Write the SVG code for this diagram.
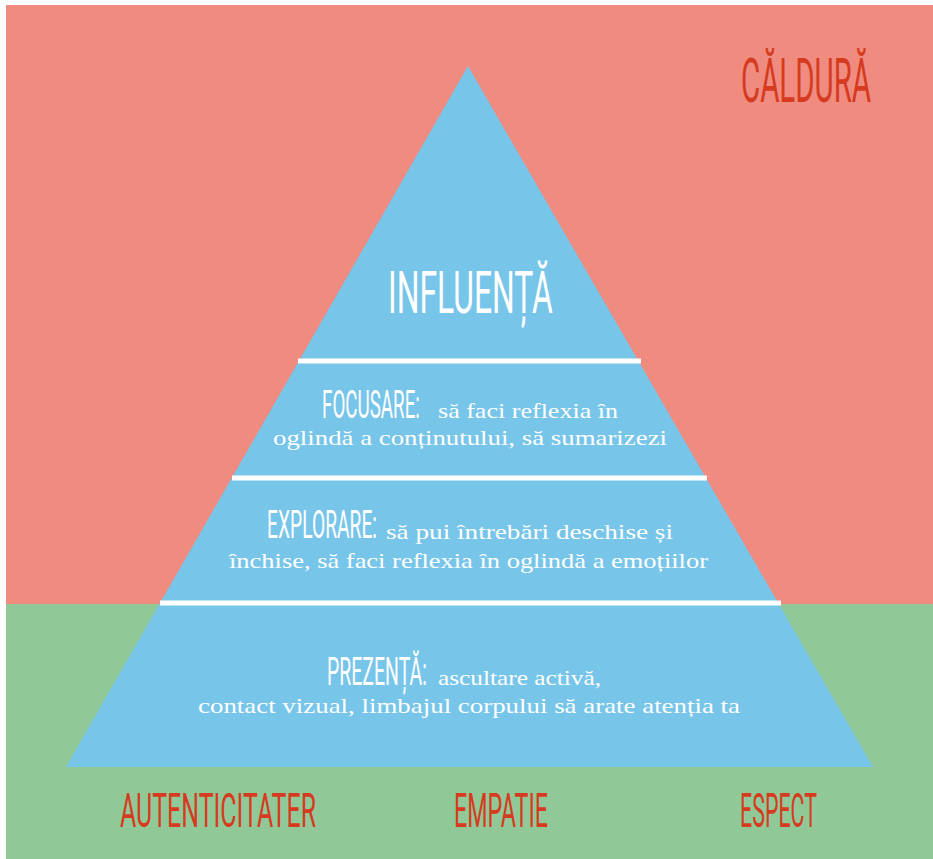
<svg xmlns="http://www.w3.org/2000/svg" width="933" height="859" viewBox="0 0 933 859">
  <style>
    .head { font-family: Roboto, "Open Sans", "DejaVu Sans", sans-serif; font-weight: 400; }
    .red { fill: #D63B20; }
    .white { fill: #FFFFFF; }
    .body { font-family: "Liberation Serif", "DejaVu Serif", serif; font-size: 22px; fill: #FFFFFF; }
    .divider { stroke: #FFFFFF; stroke-width: 5; }
  </style>
  <rect x="0" y="0" width="933" height="859" fill="#FFFFFF"/>
  <g id="background">
    <rect x="6" y="5" width="927" height="599" fill="#F08B7F"/>
    <rect x="6" y="604" width="927" height="255" fill="#90C997"/>
  </g>
  <g id="pyramid">
    <polygon points="468,66 873,767 66,767" fill="#78C5EA"/>
  </g>
  <g id="connectors">
    <line class="divider" x1="298" y1="361" x2="641" y2="361"/>
    <line class="divider" x1="232" y1="478" x2="707" y2="478"/>
    <line class="divider" x1="160" y1="603" x2="781" y2="603"/>
  </g>
  <g id="caldura">
    <text class="head red" transform="translate(741,102) scale(0.475,1)" x="0" y="0" font-size="62" textLength="273.7" lengthAdjust="spacingAndGlyphs">CĂLDURĂ</text>
  </g>
  <g id="influenta">
    <text class="head white" transform="translate(388,313) scale(0.52,1)" x="0" y="0" font-size="60" textLength="317" lengthAdjust="spacingAndGlyphs">INFLUENȚĂ</text>
  </g>
  <g id="focusare">
    <text class="head white" transform="translate(322,418) scale(0.48,1)" x="0" y="0" font-size="39" textLength="204" lengthAdjust="spacingAndGlyphs">FOCUSARE:</text>
    <text class="body" x="438" y="418" textLength="180" lengthAdjust="spacingAndGlyphs">să faci reflexia în</text>
    <text class="body" x="273" y="445" textLength="394" lengthAdjust="spacingAndGlyphs">oglindă a conținutului, să sumarizezi</text>
  </g>
  <g id="explorare">
    <text class="head white" transform="translate(267,538) scale(0.49,1)" x="0" y="0" font-size="39" textLength="224.5" lengthAdjust="spacingAndGlyphs">EXPLORARE:</text>
    <text class="body" x="386" y="539" textLength="287" lengthAdjust="spacingAndGlyphs">să pui întrebări deschise și</text>
    <text class="body" x="229" y="568" textLength="479" lengthAdjust="spacingAndGlyphs">închise, să faci reflexia în oglindă a emoțiilor</text>
  </g>
  <g id="prezenta">
    <text class="head white" transform="translate(327,685) scale(0.495,1)" x="0" y="0" font-size="39" textLength="202" lengthAdjust="spacingAndGlyphs">PREZENȚĂ:</text>
    <text class="body" x="438" y="685" textLength="163" lengthAdjust="spacingAndGlyphs">ascultare activă,</text>
    <text class="body" x="198" y="713" textLength="542" lengthAdjust="spacingAndGlyphs">contact vizual, limbajul corpului să arate atenția ta</text>
  </g>
  <g id="autenticitater">
    <text class="head red" transform="translate(120,827) scale(0.51,1)" x="0" y="0" font-size="48" textLength="384.3" lengthAdjust="spacingAndGlyphs">AUTENTICITATER</text>
  </g>
  <g id="empatie">
    <text class="head red" transform="translate(454,827) scale(0.47,1)" x="0" y="0" font-size="48" textLength="200" lengthAdjust="spacingAndGlyphs">EMPATIE</text>
  </g>
  <g id="espect">
    <text class="head red" transform="translate(740,827) scale(0.445,1)" x="0" y="0" font-size="48" textLength="173" lengthAdjust="spacingAndGlyphs">ESPECT</text>
  </g>
</svg>
